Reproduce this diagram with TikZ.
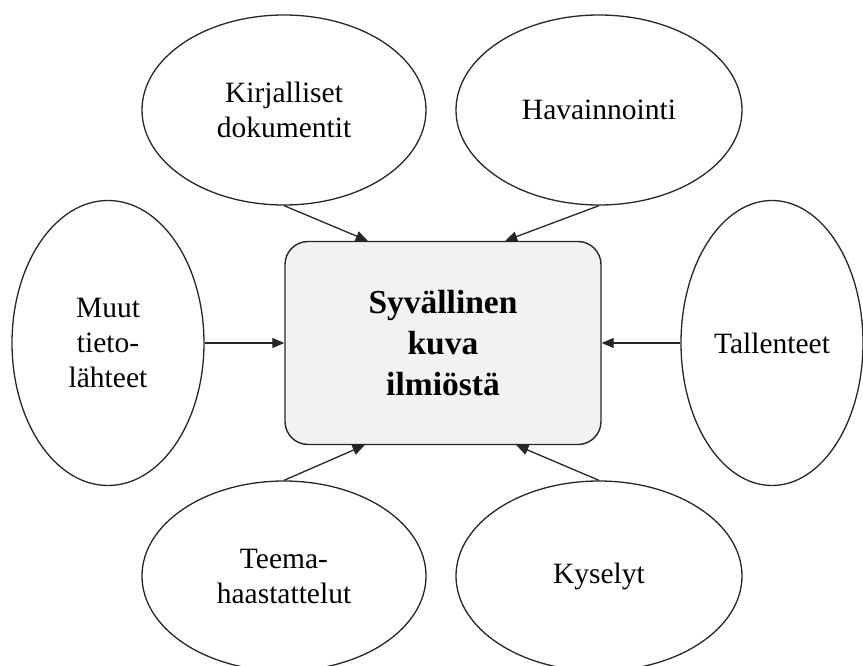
\documentclass[tikz,border=0pt]{standalone}
\usepackage{fontspec}
\setmainfont{Liberation Serif}
\usetikzlibrary{arrows.meta,calc,shapes.geometric}
\definecolor{boxfill}{HTML}{F2F2F2}
\definecolor{edge}{HTML}{262626}
\begin{document}
\begin{tikzpicture}[x=1pt,y=-1pt,
  source/.style={ellipse,draw=edge,line width=1.3pt,inner sep=0pt,align=center,
    font=\fontsize{29.5}{35}\selectfont},
  hub/.style={rectangle,rounded corners=23pt,draw=edge,line width=1.4pt,fill=boxfill,
    minimum width=316pt,minimum height=203pt,align=center,
    font=\fontsize{33.5}{41}\selectfont\bfseries},
  feed/.style={-{Triangle[length=12pt,width=10pt]},line width=1.3pt,draw=edge}]
\useasboundingbox (0,0) rectangle (863,666);
% central box
\node[hub] (box) at (443,343) {Syvällinen\\kuva\\ilmiöstä};
% information sources
\node[source,minimum width=284pt,minimum height=190pt] (kir) at (284,110) {Kirjalliset\\dokumentit};
\node[source,minimum width=286pt,minimum height=190pt] (hav) at (599,110) {Havainnointi};
\node[source,minimum width=192pt,minimum height=285pt] (muu) at (108,343) {Muut\\tieto-\\lähteet};
\node[source,minimum width=182pt,minimum height=285pt] (tal) at (772,343) {Tallenteet};
\node[source,minimum width=284pt,minimum height=190pt] (tee) at (284,576) {Teema-\\haastattelut};
\node[source,minimum width=286pt,minimum height=190pt] (kys) at (599,576) {Kyselyt};
% connectors into the box
\draw[feed] (kir.south) -- ($(box.north west)!0.263!(box.north east)$);
\draw[feed] (hav.south) -- ($(box.north west)!0.696!(box.north east)$);
\draw[feed] (muu.east) -- (muu.east -| box.west);
\draw[feed] (tal.west) -- (tal.west -| box.east);
\draw[feed] (tee.north) -- ($(box.south west)!0.253!(box.south east)$);
\draw[feed] (kys.north) -- ($(box.south west)!0.731!(box.south east)$);
\end{tikzpicture}
\end{document}
